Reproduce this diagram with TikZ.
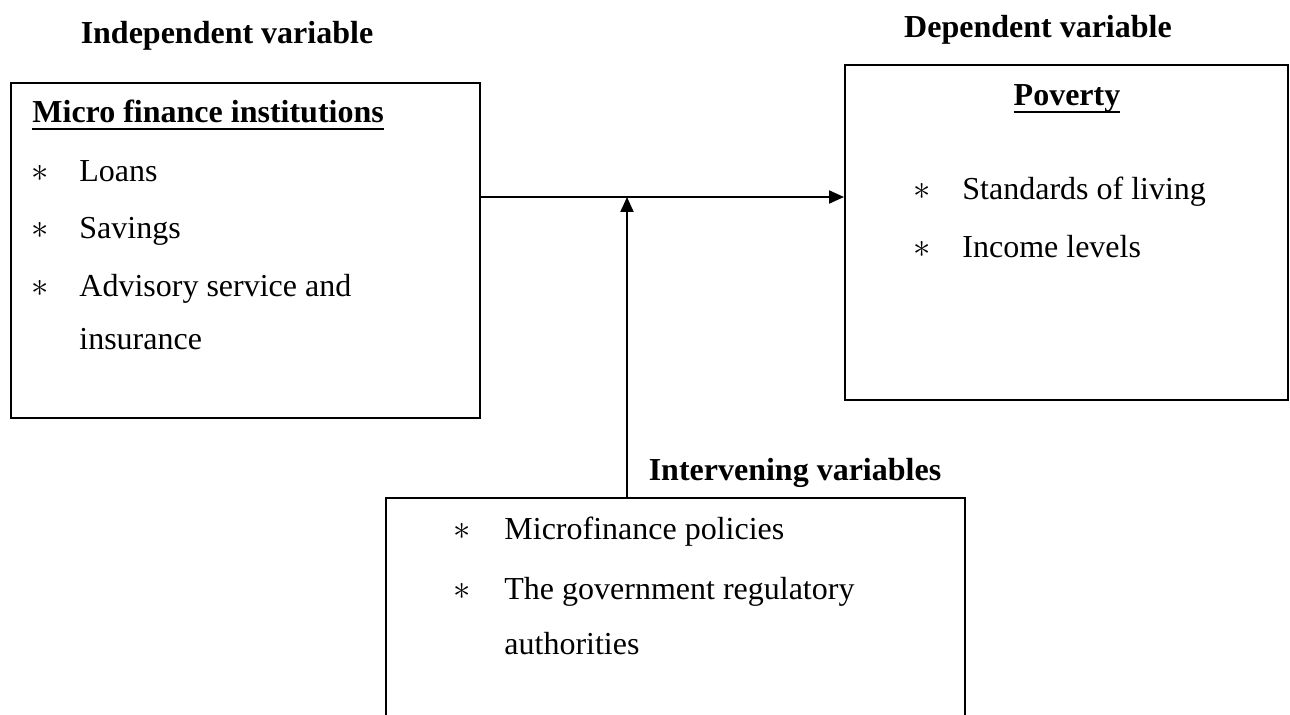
\documentclass[tikz,border=0pt]{standalone}
\usepackage{fontspec}
\setmainfont{Liberation Serif}
\usetikzlibrary{arrows.meta}

% bold title with a Word-like underline
\newcommand{\ultitle}[1]{%
  \setbox0\hbox{\bfseries #1}%
  \rlap{\rule[-3.5pt]{\wd0}{1.2pt}}\box0}

\begin{document}
\begin{tikzpicture}[
  x=0.5pt, y=-0.5pt,
  font=\fontsize{16}{20}\selectfont,
  >={Triangle[length=7.5pt,width=6.5pt]},
  box/.style={draw=black, line width=1pt, inner sep=0pt},
  head/.style={font=\fontsize{16}{20}\selectfont\bfseries, anchor=base},
  item/.style={anchor=base west, inner sep=0pt},
  star/.style={anchor=base, inner sep=0pt},
  link/.style={->, line width=1pt}
]
\useasboundingbox (0,0) rectangle (1290,715);
\clip (0,0) rectangle (1290,715);

% ---------- Boxes ----------
\node[box, minimum width=234.75pt, minimum height=167.75pt] (b1) at (245.25,250.75) {};
\node[box, minimum width=221.5pt,  minimum height=167.5pt]  (b2) at (1066.5,232.5) {};
\node[box, minimum width=289.5pt,  minimum height=130pt]    (b3) at (675.5,628) {};

% ---------- Headings ----------
\node[head] (h1) at (227,44)  {Independent variable};
\node[head] (h2) at (1038,38) {Dependent variable};
\node[head] (h3) at (795,481) {Intervening variables};

% ---------- Independent variable ----------
\node[item] (t1) at (32,123) {\ultitle{Micro finance institutions}};
\node[star] (s11) at (40,182) {$\ast$};
\node[item] (i11) at (79,182) {Loans};
\node[star] (s12) at (40,239) {$\ast$};
\node[item] (i12) at (79,239) {Savings};
\node[star] (s13) at (40,297) {$\ast$};
\node[item] (i13) at (79,297) {Advisory service and};
\node[item] (i14) at (79,350) {insurance};

% ---------- Dependent variable ----------
\node[head] (t2) at (1067,106) {\ultitle{Poverty}};
\node[star] (s21) at (922,200) {$\ast$};
\node[item] (i21) at (962,200) {Standards of living};
\node[star] (s22) at (922,258) {$\ast$};
\node[item] (i22) at (962,258) {Income levels};

% ---------- Intervening variables ----------
\node[star] (s31) at (462,540) {$\ast$};
\node[item] (i31) at (504,540) {Microfinance policies};
\node[star] (s32) at (462,599) {$\ast$};
\node[item] (i32) at (504,599) {The government regulatory};
\node[item] (i33) at (504,654) {authorities};

% ---------- Connectors ----------
\coordinate (jn) at (627,197);
\draw[link] (jn -| b1.east) -- (jn -| b2.west);
\draw[link] (b3.north -| jn) -- (jn);

\end{tikzpicture}
\end{document}
